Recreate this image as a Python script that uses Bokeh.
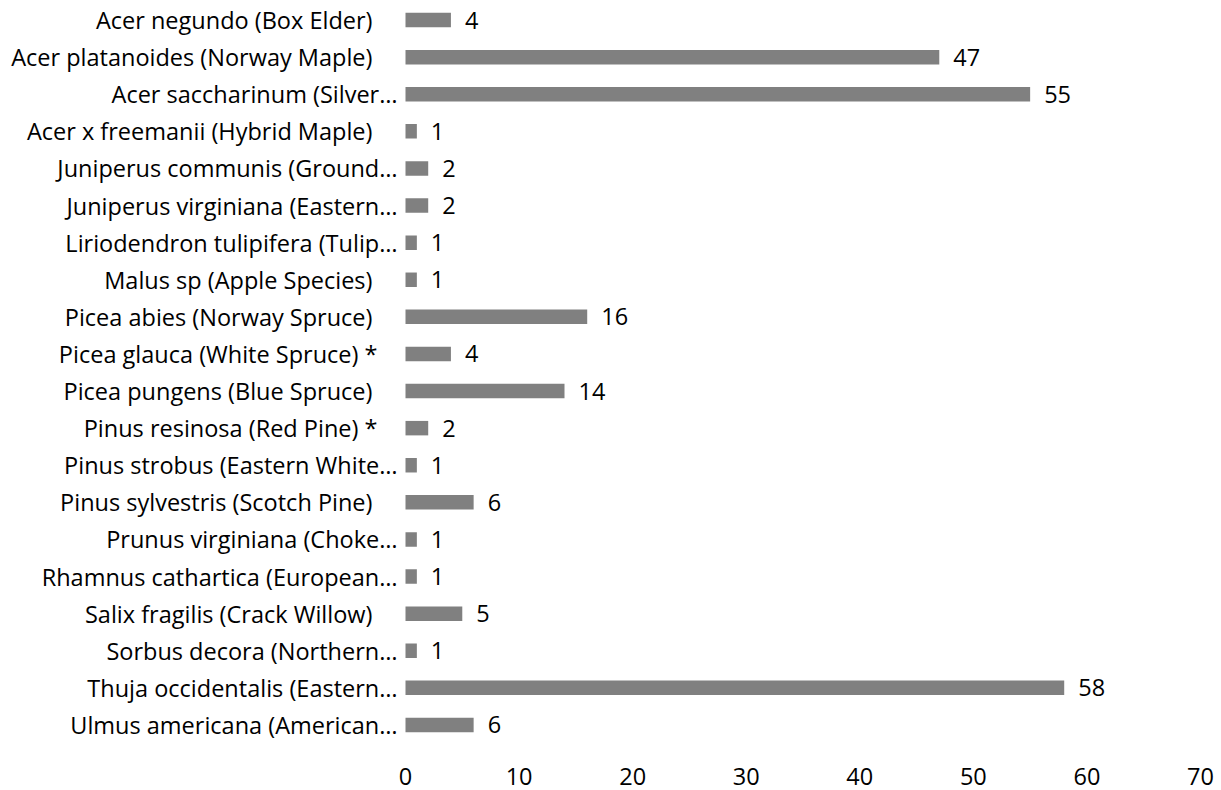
from bokeh.plotting import figure
from bokeh.models import FactorRange, FixedTicker, ColumnDataSource, Range1d
from bokeh.core.properties import value
from bokeh.embed import file_html
from bokeh.resources import INLINE

species = [
    "Acer negundo (Box Elder)",
    "Acer platanoides (Norway Maple)",
    "Acer saccharinum (Silver…",
    "Acer x freemanii (Hybrid Maple)",
    "Juniperus communis (Ground…",
    "Juniperus virginiana (Eastern…",
    "Liriodendron tulipifera (Tulip…",
    "Malus sp (Apple Species)",
    "Picea abies (Norway Spruce)",
    "Picea glauca (White Spruce) *",
    "Picea pungens (Blue Spruce)",
    "Pinus resinosa (Red Pine) *",
    "Pinus strobus (Eastern White…",
    "Pinus sylvestris (Scotch Pine)",
    "Prunus virginiana (Choke…",
    "Rhamnus cathartica (European…",
    "Salix fragilis (Crack Willow)",
    "Sorbus decora (Northern…",
    "Thuja occidentalis (Eastern…",
    "Ulmus americana (American…",
]
counts = [4, 47, 55, 1, 2, 2, 1, 1, 16, 4, 14, 2, 1, 6, 1, 1, 5, 1, 58, 6]
x_ticks = [0, 10, 20, 30, 40, 50, 60, 70]

FONT = "Open Sans"
FS = "23.5px"

# value axis runs 0..70 over 795 px; the label column (405 px) is
# kept inside the frame by extending the range to the left
X_MAX = 70
X_MIN = -X_MAX * 405 / 795

source = ColumnDataSource(dict(y=species, x=counts, label=[str(c) for c in counts]))

p = figure(
    width=1221, height=790,
    frame_width=1200, frame_height=742,
    y_range=FactorRange(factors=list(reversed(species))),
    x_range=Range1d(X_MIN, X_MAX),
    output_backend="svg", toolbar_location=None,
    min_border_left=0, min_border_right=21,
    min_border_top=1, min_border_bottom=47,
)

p.hbar(y="y", right="x", left=0, height=0.39, source=source,
       fill_color="#808080", line_color=None)

p.text(x="x", y="y", text="label", source=source, x_offset=14,
       text_baseline="middle", text_align="left",
       text_font=value(FONT), text_font_size=FS, text_color="#000000")

# category labels (truncated labels sit closer to the bars in the reference)
groups = [
    ([s for s in species if s.endswith("…")], -8),
    ([s for s in species if s.endswith("*")], -28),
    ([s for s in species if not s.endswith("…") and not s.endswith("*")], -33),
]
for names, off in groups:
    src = ColumnDataSource(dict(x=[0] * len(names), y=names, t=names))
    p.text(x="x", y="y", text="t", source=src, x_offset=off,
           text_align="right", text_baseline="middle",
           text_font=value(FONT), text_font_size=FS, text_color="#000000")

p.xaxis.ticker = FixedTicker(ticks=x_ticks)
ax = p.xaxis[0]
ax.axis_line_color = None
ax.major_tick_line_color = None
ax.minor_tick_line_color = None
ax.major_tick_out = 0
ax.major_tick_in = 0
ax.major_label_text_font = FONT
ax.major_label_text_font_size = FS
ax.major_label_text_color = "#000000"
ax.major_label_standoff = 24

p.yaxis.visible = False

p.xgrid.grid_line_color = None
p.ygrid.grid_line_color = None
p.outline_line_color = None
p.background_fill_color = "white"
p.border_fill_color = "white"

open("out.html", "w").write(file_html(p, INLINE))
